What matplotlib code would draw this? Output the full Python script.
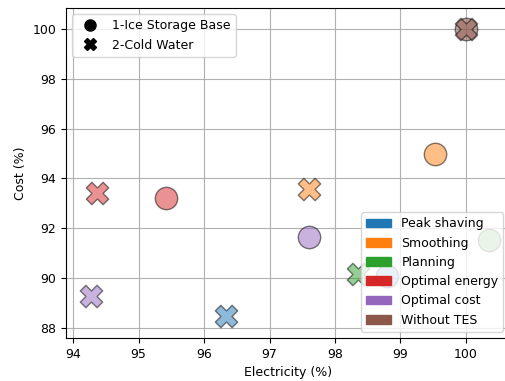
import matplotlib.pyplot as plt
from matplotlib.lines import Line2D
from matplotlib.patches import Patch

plt.rcParams["font.size"] = 9

# strategies and their colours
strategies = ["Peak shaving", "Smoothing", "Planning", "Optimal energy", "Optimal cost", "Without TES"]
colors = ["tab:blue", "tab:orange", "tab:green", "tab:red", "tab:purple", "tab:brown"]

# 1-Ice Storage Base (circles)
ice_elec = [98.80, 99.53, 100.35, 95.42, 97.60, 100.0]
ice_cost = [90.10, 95.00, 91.55, 93.20, 91.65, 100.0]

# 2-Cold Water (crosses)
cw_elec = [96.33, 97.60, 98.35, 94.37, 94.27, 100.0]
cw_cost = [88.50, 93.57, 90.15, 93.40, 89.30, 100.0]

fig = plt.figure(figsize=(5.06, 3.81), dpi=100)
ax = fig.add_axes([0.1304, 0.113, 0.877, 0.866])

for i in range(len(strategies)):
    ax.scatter(ice_elec[i], ice_cost[i], s=260, marker="o", color=colors[i],
               edgecolor="k", alpha=0.5, zorder=3)
    ax.scatter(cw_elec[i], cw_cost[i], s=260, marker="X", color=colors[i],
               edgecolor="k", alpha=0.5, zorder=3)

ax.set_xlim(93.89, 100.67)
ax.set_ylim(87.6, 100.84)
ax.set_xticks([94, 95, 96, 97, 98, 99, 100])
ax.set_yticks([88, 90, 92, 94, 96, 98, 100])
ax.grid(True, color="#b0b0b0", zorder=0)
ax.set_axisbelow(True)
ax.set_xlabel("Electricity (%)")
ax.set_ylabel("Cost (%)")

h1 = [Line2D([], [], marker="o", color="k", linestyle="", markersize=8),
      Line2D([], [], marker="X", color="k", linestyle="", markersize=8)]
leg1 = ax.legend(h1, ["1-Ice Storage Base", "2-Cold Water"], loc="upper left")
ax.add_artist(leg1)

h2 = [Patch(color=c) for c in colors]
ax.legend(h2, strategies, loc="lower right")

fig.savefig("out.png")
